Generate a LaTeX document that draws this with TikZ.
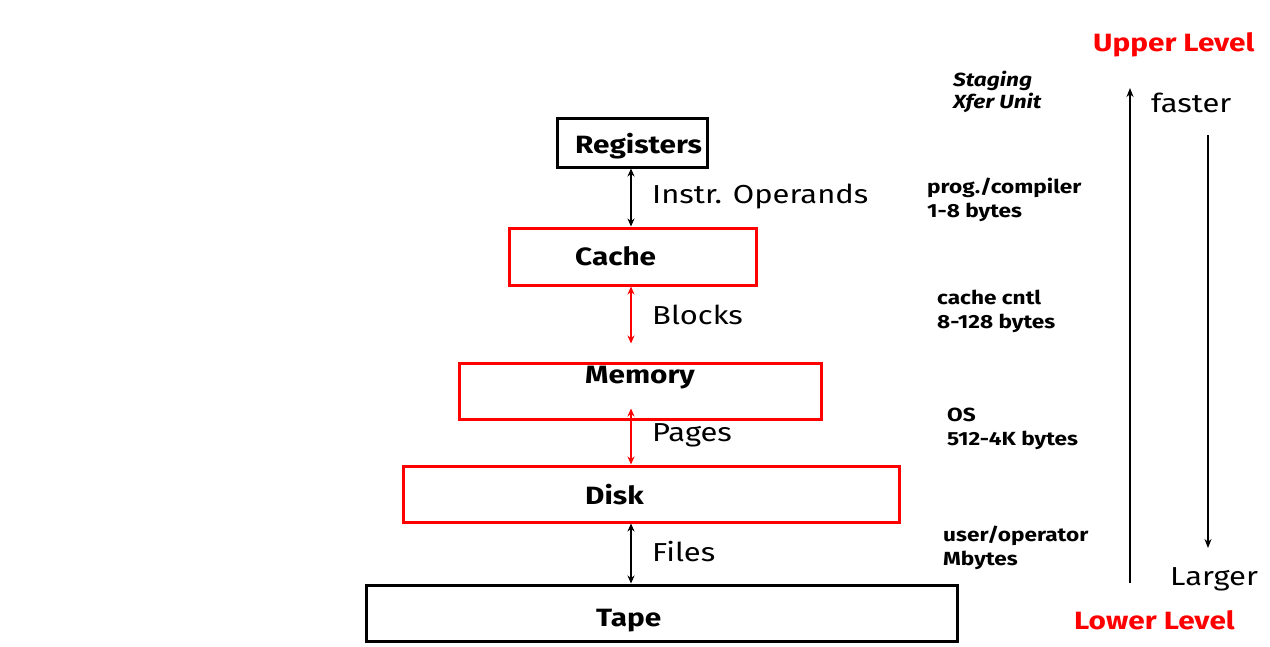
\documentclass[tikz,border=0pt]{standalone}
\usepackage{fontspec}
\setmainfont[FakeStretch=1.19]{Fira Sans}
\usetikzlibrary{arrows.meta}
\definecolor{hred}{RGB}{255,0,0}
\tikzset{
  box/.style={draw, line width=3pt, inner sep=0pt},
  redbox/.style={box, draw=hred},
  blackbox/.style={box, draw=black},
  boxtext/.style={font=\fontsize{25}{28}\selectfont\bfseries, inner sep=0pt},
  lbl/.style={font=\fontsize{26}{30}\selectfont, anchor=west, inner sep=0pt},
  side/.style={font=\fontsize{19}{24}\selectfont\bfseries, anchor=west, inner sep=0pt, align=left},
  lvl/.style={font=\fontsize{25}{28}\selectfont\bfseries, text=hred, inner sep=0pt},
  dbl/.style={{Stealth[length=8pt,width=7pt]}-{Stealth[length=8pt,width=7pt]}, line width=1.6pt},
  single/.style={-{Stealth[length=9pt,width=7pt]}, line width=1.6pt}
}
\begin{document}
\begin{tikzpicture}[x=1pt,y=-1pt]
\path[use as bounding box] (0,0) rectangle (1270,646);
% boxes
\node[blackbox, minimum width=150pt, minimum height=49pt] (registers) at (632,142.5) {};
\node[redbox, minimum width=247pt, minimum height=57pt] (cache) at (632.5,256.5) {};
\node[redbox, minimum width=362pt, minimum height=56pt] (memory) at (640,391) {};
\node[redbox, minimum width=496pt, minimum height=56pt] (disk) at (651,494) {};
\node[blackbox, minimum width=591pt, minimum height=56pt] (tape) at (661.5,613) {};
% box texts
\node[boxtext, anchor=west] (tregisters) at (575,146) {Registers};
\node[boxtext, anchor=west] (tcache) at (575,256) {Cache};
\node[boxtext, anchor=west] (tmemory) at (585,378) {Memory};
\node[boxtext, anchor=west] (tdisk) at (585,495) {Disk};
\node[boxtext, anchor=west] (ttape) at (596,621) {Tape};
% arrow axis
\coordinate (ax) at (631,0);
\draw[dbl] (registers.south -| ax) -- (cache.north -| ax);
\draw[dbl, draw=hred, fill=hred] (cache.south -| ax) -- ([yshift=18pt]memory.north -| ax);
\draw[dbl, draw=hred, fill=hred] ([yshift=12pt]memory.south -| ax) -- (disk.north -| ax);
\draw[dbl] (disk.south -| ax) -- (tape.north -| ax);
% arrow labels
\node[lbl] (linstr) at (652,197) {Instr. Operands};
\node[lbl] (lblocks) at (652,315) {Blocks};
\node[lbl] (lpages) at (652,435) {Pages};
\node[lbl] (lfiles) at (652,552) {Files};
% right side texts
\node[side, font=\fontsize{19}{22}\selectfont\bfseries\itshape] (staging) at (953,92) {Staging\\Xfer Unit};
\node[side] (prog) at (927,200) {prog./compiler\\1-8 bytes};
\node[side] (cachecntl) at (937,311) {cache cntl\\8-128 bytes};
\node[side] (os) at (947,429) {OS\\512-4K bytes};
\node[side] (user) at (943,548) {user/operator\\Mbytes};
% levels
\node[lvl, anchor=west] (upper) at (1093,45) {Upper Level};
\node[lvl, anchor=west] (lower) at (1074,620) {Lower Level};
\node[lbl] (faster) at (1151,103) {faster};
\node[lbl] (larger) at (1170,579) {Larger};
\coordinate (upbot) at (1130,583);
\coordinate (uptop) at (1130,88);
\coordinate (dntop) at (1208,135);
\coordinate (dnbot) at (1208,548);
\draw[single] (upbot) -- (uptop);
\draw[single] (dntop) -- (dnbot);
\end{tikzpicture}
\end{document}
